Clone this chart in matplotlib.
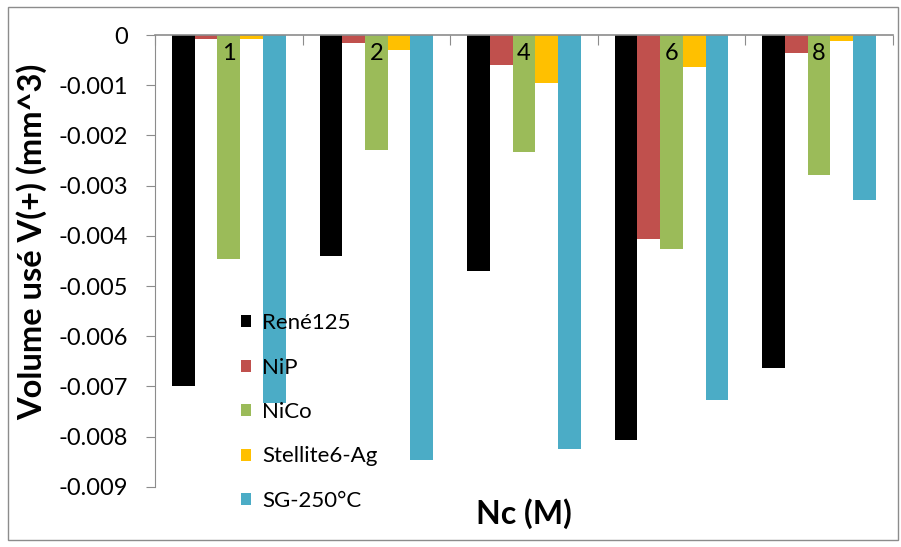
import numpy as np
import matplotlib.pyplot as plt
from matplotlib.patches import Rectangle

plt.rcParams['font.family'] = ['Lato', 'DejaVu Sans']

# data (mm^3)
groups = ['1', '2', '4', '6', '8']
series = ['René125', 'NiP', 'NiCo', 'Stellite6-Ag', 'SG-250°C']
rene125 = [-0.00699, -0.00440, -0.00470, -0.00807, -0.00663]
nip = [-0.00008, -0.00015, -0.00060, -0.00406, -0.00035]
nico = [-0.00446, -0.00229, -0.00233, -0.00426, -0.00279]
stellite = [-0.00007, -0.00030, -0.00096, -0.00063, -0.00012]
sg250 = [-0.00733, -0.00847, -0.00825, -0.00727, -0.00329]
colors = ['#000000', '#C0504D', '#9BBB59', '#FFC000', '#4BACC6']

values = [rene125, nip, nico, stellite, sg250]

fig = plt.figure(figsize=(9.01, 5.47), dpi=100)
ax = fig.add_axes([0.172, 0.110, 0.819, 0.826])

# outer border of the chart area
fig.patches.append(Rectangle((0.009, 0.013), 0.988, 0.974, transform=fig.transFigure,
                             fill=False, edgecolor='#8c8c8c', linewidth=1.0))

x = np.arange(len(groups))
w = 1 / 6.5
for k, (name, vals) in enumerate(zip(series, values)):
    ax.bar(x + (k - 2) * w, vals, width=w, color=colors[k], label=name, zorder=2)

ax.set_xlim(-0.5, len(groups) - 0.5)
ax.set_ylim(-0.009, 0)
ax.set_yticks(np.arange(-0.009, 0.0001, 0.001))
ax.set_yticklabels(['-0.009', '-0.008', '-0.007', '-0.006', '-0.005', '-0.004',
                    '-0.003', '-0.002', '-0.001', '0'])
ax.tick_params(axis='y', direction='out', length=6.5, color='#8c8c8c', labelsize=17, pad=13)

# category axis sits at y=0 (top)
ax.spines['bottom'].set_visible(False)
ax.spines['right'].set_visible(False)
ax.spines['left'].set_color('#8c8c8c')
ax.spines['top'].set_color('#8c8c8c')
ax.spines['top'].set_linewidth(1.2)
ax.set_xticks(np.arange(-0.5, len(groups)), minor=False)
ax.xaxis.tick_top()
ax.tick_params(axis='x', direction='in', length=7, color='#8c8c8c', labeltop=False)

for i, g in enumerate(groups):
    ax.annotate(g, xy=(x[i], 1), xycoords=('data', 'axes fraction'),
                xytext=(0, -13.5), textcoords='offset points',
                ha='center', va='center', fontsize=17, zorder=5)

ax.set_ylabel('Volume usé V(+) (mm^3)', fontsize=23.5, fontweight='bold')
ax.yaxis.set_label_coords(-0.146, 0.542)
ax.set_xlabel('Nc (M)', fontsize=23, fontweight='bold', labelpad=8)

ax.legend(loc='upper left', bbox_to_anchor=(0.102, 0.409), frameon=False,
          fontsize=16, labelspacing=1.1, handlelength=0.45, handleheight=0.45,
          handletextpad=0.5, borderpad=0)

fig.savefig('out.png', dpi=100)
